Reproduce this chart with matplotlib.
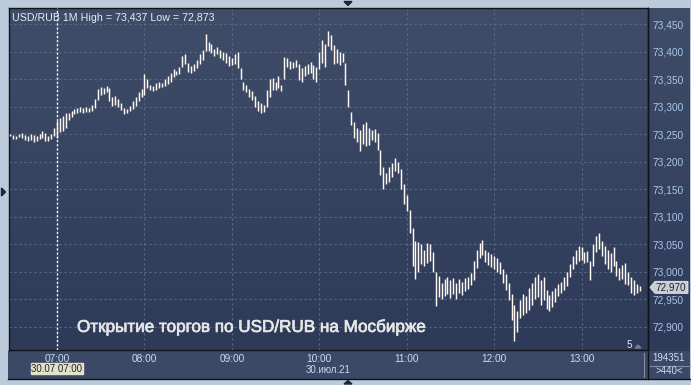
import numpy as np
import matplotlib
matplotlib.use("Agg")
import matplotlib.pyplot as plt
import matplotlib.patheffects as pe
from matplotlib.patches import Rectangle, Polygon
from matplotlib.colors import LinearSegmentedColormap

# ---------------- data (2-minute bars, start 06:28) ----------------
start_minute = 6 * 60 + 28
bar_step = 2
highs = [
    73.250, 73.248, 73.246, 73.250, 73.252, 73.248, 73.246, 73.250, 73.248, 73.246,
    73.250, 73.256, 73.252, 73.246, 73.250, 73.262, 73.275, 73.280, 73.284, 73.288,
    73.288, 73.292, 73.296, 73.298, 73.300, 73.298, 73.300, 73.298, 73.304, 73.314,
    73.332, 73.336, 73.334, 73.338, 73.334, 73.318, 73.320, 73.314, 73.306, 73.298,
    73.296, 73.302, 73.310, 73.318, 73.326, 73.332, 73.360, 73.350, 73.340, 73.338,
    73.344, 73.346, 73.344, 73.350, 73.356, 73.362, 73.368, 73.366, 73.372, 73.392,
    73.396, 73.380, 73.374, 73.378, 73.386, 73.396, 73.404, 73.432, 73.418, 73.414,
    73.406, 73.408, 73.404, 73.400, 73.398, 73.392, 73.388, 73.396, 73.400, 73.370,
    73.346, 73.340, 73.332, 73.328, 73.320, 73.310, 73.306, 73.304, 73.330, 73.350,
    73.352, 73.346, 73.356, 73.340, 73.390, 73.388, 73.384, 73.382, 73.386, 73.378,
    73.370, 73.374, 73.378, 73.382, 73.376, 73.372, 73.400, 73.422, 73.414, 73.437,
    73.430, 73.412, 73.406, 73.400, 73.398, 73.380, 73.330, 73.290, 73.272, 73.262,
    73.258, 73.268, 73.272, 73.262, 73.258, 73.260, 73.252, 73.222, 73.190, 73.180,
    73.190, 73.198, 73.206, 73.200, 73.186, 73.160, 73.140, 73.112, 73.080, 73.056,
    73.054, 73.050, 73.040, 73.052, 73.050, 73.036, 73.000, 72.992, 72.980, 72.986,
    72.990, 72.984, 72.988, 72.980, 72.986, 72.982, 72.988, 72.990, 72.998, 73.020,
    73.040, 73.052, 73.058, 73.040, 73.036, 73.032, 73.028, 73.024, 73.018, 73.004,
    72.996, 72.980, 72.960, 72.940, 72.928, 72.948, 72.960, 72.956, 72.970, 72.980,
    72.990, 72.996, 72.984, 72.990, 72.966, 72.958, 72.964, 72.970, 72.978, 72.982,
    72.990, 73.000, 73.014, 73.028, 73.040, 73.046, 73.044, 73.036, 73.038, 73.020,
    73.050, 73.064, 73.070, 73.056, 73.046, 73.040, 73.034, 73.044, 73.020, 73.006,
    73.012, 73.016, 73.000, 72.990, 72.984, 72.978, 72.974,
]
lows = [
    73.246, 73.242, 73.242, 73.245, 73.244, 73.240, 73.238, 73.240, 73.236, 73.238,
    73.242, 73.244, 73.238, 73.238, 73.242, 73.246, 73.243, 73.254, 73.256, 73.262,
    73.276, 73.282, 73.286, 73.288, 73.290, 73.288, 73.290, 73.290, 73.292, 73.298,
    73.312, 73.322, 73.324, 73.326, 73.310, 73.302, 73.304, 73.300, 73.294, 73.286,
    73.288, 73.292, 73.296, 73.302, 73.310, 73.318, 73.322, 73.334, 73.330, 73.328,
    73.330, 73.334, 73.336, 73.338, 73.342, 73.346, 73.354, 73.358, 73.360, 73.372,
    73.378, 73.364, 73.362, 73.366, 73.370, 73.378, 73.386, 73.402, 73.402, 73.398,
    73.392, 73.396, 73.388, 73.386, 73.380, 73.374, 73.376, 73.378, 73.370, 73.350,
    73.330, 73.326, 73.318, 73.312, 73.300, 73.292, 73.288, 73.290, 73.300, 73.318,
    73.330, 73.330, 73.334, 73.328, 73.350, 73.372, 73.368, 73.370, 73.372, 73.348,
    73.346, 73.356, 73.360, 73.362, 73.350, 73.346, 73.368, 73.380, 73.372, 73.410,
    73.404, 73.378, 73.380, 73.376, 73.382, 73.340, 73.300, 73.266, 73.244, 73.236,
    73.220, 73.232, 73.228, 73.230, 73.240, 73.236, 73.222, 73.176, 73.150, 73.160,
    73.164, 73.172, 73.184, 73.180, 73.150, 73.124, 73.110, 73.070, 73.010, 72.986,
    73.000, 73.014, 73.010, 73.016, 73.020, 73.000, 72.938, 72.954, 72.950, 72.956,
    72.960, 72.952, 72.960, 72.950, 72.962, 72.958, 72.964, 72.968, 72.976, 72.984,
    73.006, 73.024, 73.030, 73.018, 73.012, 73.008, 73.004, 73.000, 72.996, 72.980,
    72.966, 72.948, 72.912, 72.873, 72.890, 72.916, 72.922, 72.924, 72.930, 72.940,
    72.950, 72.954, 72.940, 72.948, 72.932, 72.928, 72.936, 72.944, 72.956, 72.962,
    72.966, 72.974, 72.990, 73.004, 73.014, 73.020, 73.022, 73.016, 73.018, 72.984,
    73.010, 73.036, 73.042, 73.028, 73.014, 73.004, 73.000, 73.010, 72.992, 72.984,
    72.986, 72.978, 72.976, 72.962, 72.958, 72.962, 72.964,
]
last_price = 72.970
y_ticks = [72.90, 72.95, 73.00, 73.05, 73.10, 73.15, 73.20, 73.25, 73.30, 73.35, 73.40, 73.45]
x_tick_hours = [7, 8, 9, 10, 11, 12, 13]
title_text = "USD/RUB 1M High = 73,437 Low = 72,873"
annotation = "Открытие торгов по USD/RUB на Мосбирже"
cursor_label = "30.07 07:00"
date_label = "30.июл.21"
volume_label = "194351"
range_label = ">440<"
page_label = "5"

# ---------------- figure ----------------
W, H = 691, 385
fig = plt.figure(figsize=(W / 100, H / 100), dpi=100)
fig.patch.set_facecolor("#bccbdb")
FONT = ["Liberation Sans", "DejaVu Sans"]

def fr(x0, y0, x1, y1):
    return [x0 / W, 1 - y1 / H, (x1 - x0) / W, (y1 - y0) / H]

grad_cmap = LinearSegmentedColormap.from_list("g", ["#3f4d69", "#2d3a58"])
grad = np.linspace(0, 1, 256).reshape(-1, 1)

# right axis panel background
axr = fig.add_axes(fr(649, 8, 690, 351))
axr.imshow(grad, aspect="auto", cmap=grad_cmap, extent=[0, 1, 0, 1])
axr.set_axis_off()

# bottom panel
axb = fig.add_axes(fr(8, 351, 690, 379))
axb.set_xlim(0, 1); axb.set_ylim(0, 1)
axb.add_patch(Rectangle((0, 0), 1, 1, color="#3b4966"))
axb.set_axis_off()

# main axes
ax = fig.add_axes(fr(9, 8, 648, 350))
x_min = 7 * 60 + (9 - 57) / 1.457
x_max = 7 * 60 + (648 - 57) / 1.457
y_max = 73.45 + (24.3 - 8) / 27.4 * 0.05
y_min = 72.90 - (350 - 326.7) / 27.4 * 0.05
ax.imshow(grad, aspect="auto", cmap=grad_cmap, extent=[x_min, x_max, y_min, y_max], zorder=0)
ax.set_xlim(x_min, x_max)
ax.set_ylim(y_min, y_max)

for yv in y_ticks:
    ax.axhline(yv, color="#5a6984", lw=0.8, ls=(0, (2, 2.5)), zorder=1)
for h in x_tick_hours:
    ax.axvline(h * 60, color="#5a6984", lw=0.8, ls=(0, (2, 2.5)), zorder=1)

times = start_minute + bar_step * np.arange(len(highs))
ax.vlines(times, lows, highs, color="#fff8f0", lw=1.05, zorder=3)

# cursor line at 07:00
ax.axvline(7 * 60, color="white", lw=1.0, ls=(0, (1.5, 1.5)), zorder=4)

ax.yaxis.tick_right()
ax.set_yticks(y_ticks)
ax.set_yticklabels([f"{v:.3f}".replace(".", ",") for v in y_ticks])
ax.set_xticks([h * 60 for h in x_tick_hours])
ax.set_xticklabels([f"{h:02d}:00" for h in x_tick_hours])
ax.tick_params(axis="y", length=0, pad=3, labelsize=7.3, labelcolor="#a9c6ea")
ax.tick_params(axis="x", length=0, pad=3, labelsize=7.3, labelcolor="#c9dcf2")
for lab in ax.get_xticklabels() + ax.get_yticklabels():
    lab.set_family(FONT)
for s in ax.spines.values():
    s.set_color("#101418")
    s.set_linewidth(1.0)

ax.text(0.004, 0.985, title_text, transform=ax.transAxes, ha="left", va="top",
        fontsize=7.7, color="#e4ecf6", family=FONT, zorder=5)
ax.text((77 - 9) / 639, 1 - (327 - 8) / 342, annotation, transform=ax.transAxes,
        ha="left", va="center", fontsize=12.3, color="#e6e6e6", family=FONT, zorder=5,
        path_effects=[pe.withStroke(linewidth=0.5, foreground="#e6e6e6")])
ax.text((629 - 9) / 639, 1 - (345.5 - 8) / 342, page_label, transform=ax.transAxes,
        ha="center", va="center", fontsize=7.2, color="#e0e8f0", family=FONT, zorder=5)

# overlay for text outside axes (pixel coordinates)
ov = fig.add_axes([0, 0, 1, 1])
ov.set_xlim(0, W); ov.set_ylim(H, 0)
ov.set_axis_off()
ov.patch.set_alpha(0)

# frame lines
ov.plot([648.5, 648.5], [8, 379], color="#101418", lw=1.0)
ov.plot([8, 690], [378.5, 378.5], color="#101418", lw=1.0)
ov.plot([644.5, 644.5], [353, 377], color="#7f8ea6", lw=0.8)
ov.plot([650, 690], [365.5, 365.5], color="#7f8ea6", lw=0.8)

# cursor date box
ov.add_patch(Rectangle((31, 363), 52, 11, color="#e4e2c6", zorder=3))
ov.text(57, 368.8, cursor_label, ha="center", va="center", fontsize=7.0,
        color="#1e2430", family=FONT, zorder=4)
ov.text(328, 370, date_label, ha="center", va="center", fontsize=7.0,
        color="#c9dcf2", family=FONT)
ov.text(669, 358, volume_label, ha="center", va="center", fontsize=7.0,
        color="#c9dcf2", family=FONT)
ov.text(669, 370.5, range_label, ha="center", va="center", fontsize=7.0,
        color="#c9dcf2", family=FONT)

# last price marker
py = 24.3 + (73.45 - last_price) / 0.05 * 27.4
ov.add_patch(Polygon([[650, py], [655, py - 6], [688, py - 6], [688, py + 6], [655, py + 6]],
                     closed=True, facecolor="#c9ced4", edgecolor="#e8eaee", lw=0.6, zorder=3))
ov.text(671, py + 0.3, f"{last_price:.3f}".replace(".", ","), ha="center", va="center",
        fontsize=7.2, color="#1e2430", family=FONT, zorder=4)

# small navigation triangles
ov.add_patch(Polygon([[344, 1.5], [352, 1.5], [348, 5.5]], color="#1e2838"))
ov.add_patch(Polygon([[1.5, 188], [1.5, 196], [5.5, 192]], color="#1e2838"))
ov.add_patch(Polygon([[344, 384], [352, 384], [348, 380.5]], color="#1e2838"))
ov.add_patch(Polygon([[635, 348], [641, 348], [638, 345]], color="#6e7c94"))

fig.savefig("out.png", dpi=100, facecolor=fig.get_facecolor())
